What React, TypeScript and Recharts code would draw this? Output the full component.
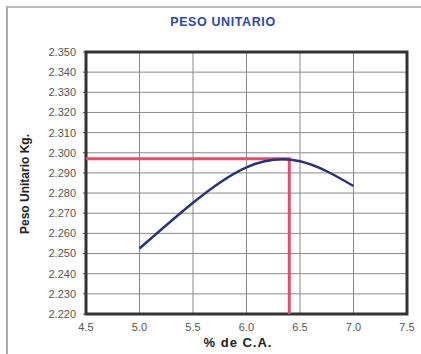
import { CartesianGrid, Line, LineChart, ReferenceArea, XAxis, YAxis } from "recharts";

const asphaltPct = [5.0, 5.5, 6.0, 6.5, 7.0];
const unitWeight = [2.2525, 2.2752, 2.2928, 2.2958, 2.2835];

const optimumPct = 6.4;
const optimumWeight = 2.297;

const xTicks = [4.5, 5.0, 5.5, 6.0, 6.5, 7.0, 7.5];
const yTicks = [2.22, 2.23, 2.24, 2.25, 2.26, 2.27, 2.28, 2.29, 2.3, 2.31, 2.32, 2.33, 2.34, 2.35];

const curve = asphaltPct.map((x, i) => ({ x, y: unitWeight[i] }));
const optimumLines = [
  { x: 4.5, y: optimumWeight },
  { x: optimumPct, y: optimumWeight },
  { x: optimumPct, y: 2.22 },
];

const font = "'Liberation Sans', Arial, sans-serif";

function App() {
  return (
    <div style={{ position: "absolute", left: 0, top: 0, width: 421, height: 354, background: "#fff", fontFamily: font }}>
      <div style={{ position: "absolute", left: 6, top: 6, width: 415, height: 348, borderLeft: "2px solid #aaa", borderTop: "2px solid #bbb" }} />
      <div
        style={{
          position: "absolute", left: 223, top: 22, transform: "translate(-50%, -50%)", whiteSpace: "nowrap",
          fontSize: 12.5, fontWeight: "bold", color: "#2f4a9c", letterSpacing: 0.6,
        }}
      >
        PESO UNITARIO
      </div>
      <div
        style={{
          position: "absolute", left: 25, top: 184, transform: "translate(-50%, -50%) rotate(-90deg)",
          whiteSpace: "nowrap", fontSize: 12, fontWeight: "bold", color: "#222",
        }}
      >
        Peso Unitario Kg.
      </div>
      <div
        style={{
          position: "absolute", left: 238, top: 342, transform: "translate(-50%, -50%)",
          whiteSpace: "nowrap", fontSize: 13, fontWeight: "bold", color: "#222", letterSpacing: 1,
        }}
      >
        % de C.A.
      </div>
      <LineChart width={421} height={354} margin={{ top: 52, right: 14, bottom: 10, left: 0 }}>
        <CartesianGrid stroke="#8a8a8a" strokeWidth={1} />
        <XAxis
          type="number"
          dataKey="x"
          domain={[4.5, 7.5]}
          ticks={xTicks}
          tickFormatter={(v: number) => v.toFixed(1)}
          height={30}
          axisLine={false}
          tickLine={false}
          tick={{ fill: "#555", fontSize: 11, fontFamily: font }}
          tickMargin={3}
        />
        <YAxis
          type="number"
          dataKey="y"
          domain={[2.22, 2.35]}
          ticks={yTicks}
          tickFormatter={(v: number) => v.toFixed(3)}
          width={86}
          axisLine={false}
          tickLine={{ stroke: "#444" }}
          tickSize={3}
          interval={0}
          tick={{ fill: "#555", fontSize: 11, fontFamily: font }}
          tickMargin={7}
        />
        <Line
          data={optimumLines}
          dataKey="y"
          type="linear"
          stroke="#e0506e"
          strokeWidth={3}
          dot={false}
          isAnimationActive={false}
        />
        <Line
          data={curve}
          dataKey="y"
          type="natural"
          stroke="#2b3275"
          strokeWidth={2.5}
          dot={false}
          isAnimationActive={false}
        />
        <ReferenceArea x1={4.5} x2={7.5} y1={2.22} y2={2.35} fill="none" stroke="#333" strokeWidth={3} ifOverflow="visible" />
      </LineChart>
    </div>
  );
}

export default App;
